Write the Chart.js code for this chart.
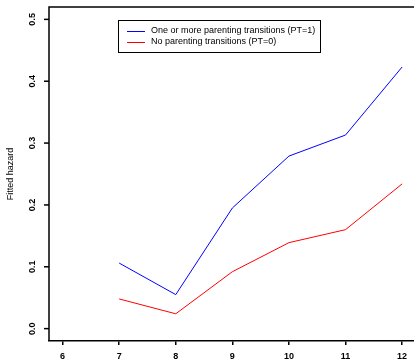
<!DOCTYPE html>
<html>
<head>
<meta charset="utf-8">
<script src="https://cdn.jsdelivr.net/npm/chart.js@4/dist/chart.umd.min.js"></script>
<style>
  html, body { margin: 0; padding: 0; background: #fff; overflow: hidden; }
  #wrap { width: 414px; height: 361px; }
</style>
</head>
<body>
<div id="wrap"><canvas id="chart" width="414" height="361"></canvas></div>
<script>
// chart values
const ages = [7, 8, 9, 10, 11, 12];
const hazardPT1 = [0.106, 0.055, 0.195, 0.279, 0.313, 0.423];
const hazardPT0 = [0.048, 0.024, 0.092, 0.139, 0.160, 0.234];
const xTicks = [6, 7, 8, 9, 10, 11, 12];
const yTicks = [0.0, 0.1, 0.2, 0.3, 0.4, 0.5];
const yTickLabels = ['0.0', '0.1', '0.2', '0.3', '0.4', '0.5'];
const seriesLabels = ['One or more parenting transitions (PT=1)', 'No parenting transitions (PT=0)'];
const yTitle = 'Fitted hazard';

const toPoints = (xs, ys) => xs.map((x, i) => ({ x: x, y: ys[i] }));

// R-style frame, rotated y labels and boxed legend
const rStyle = {
    id: 'rStyle',
    afterDraw(chart) {
        const ctx = chart.ctx;
        const area = chart.chartArea;
        const yScale = chart.scales.y;

        ctx.save();
        // box (left, top; bottom is drawn by the x border)
        ctx.strokeStyle = '#000';
        ctx.lineWidth = 1.5;
        ctx.beginPath();
        ctx.moveTo(area.right + 2, area.top);
        ctx.lineTo(area.left, area.top);
        ctx.lineTo(area.left, area.bottom);
        ctx.stroke();

        // y tick marks and rotated labels
        ctx.fillStyle = '#000';
        ctx.font = 'bold 9px "Liberation Sans", Arial, sans-serif';
        ctx.textAlign = 'center';
        ctx.textBaseline = 'middle';
        yTicks.forEach((v, i) => {
            const py = yScale.getPixelForValue(v);
            ctx.beginPath();
            ctx.moveTo(area.left, py);
            ctx.lineTo(area.left - 5, py);
            ctx.stroke();
            ctx.save();
            ctx.translate(33, py);
            ctx.rotate(-Math.PI / 2);
            ctx.fillText(yTickLabels[i], 0, 0);
            ctx.restore();
        });

        // y axis title
        ctx.font = '9px "Liberation Sans", Arial, sans-serif';
        ctx.save();
        ctx.translate(11, 174);
        ctx.rotate(-Math.PI / 2);
        ctx.fillText(yTitle, 0, 0);
        ctx.restore();

        // legend box
        const lx = 118, ly = 20, lw = 202, lh = 32;
        ctx.lineWidth = 1;
        ctx.strokeStyle = '#000';
        ctx.strokeRect(lx + 0.5, ly + 0.5, lw, lh);
        ctx.font = '9px "Liberation Sans", Arial, sans-serif';
        ctx.textAlign = 'left';
        chart.data.datasets.forEach((ds, i) => {
            const ry = ly + 11 + i * 11;
            ctx.strokeStyle = ds.borderColor;
            ctx.beginPath();
            ctx.moveTo(127, ry + 0.5);
            ctx.lineTo(145, ry + 0.5);
            ctx.stroke();
            ctx.fillStyle = '#000';
            ctx.fillText(ds.label, 151, ry);
        });
        ctx.restore();
    }
};

new Chart(document.getElementById('chart'), {
    type: 'line',
    data: {
        datasets: [
            {
                label: seriesLabels[0],
                data: toPoints(ages, hazardPT1),
                borderColor: '#0000ff',
                borderWidth: 1,
                pointRadius: 0,
                tension: 0,
                fill: false
            },
            {
                label: seriesLabels[1],
                data: toPoints(ages, hazardPT0),
                borderColor: '#ff0000',
                borderWidth: 1,
                pointRadius: 0,
                tension: 0,
                fill: false
            }
        ]
    },
    options: {
        responsive: false,
        animation: false,
        layout: { padding: { top: 7, right: 0, left: 0, bottom: 0 } },
        plugins: {
            legend: { display: false },
            tooltip: { enabled: false }
        },
        scales: {
            x: {
                type: 'linear',
                min: 5.76,
                max: 12.21,
                afterBuildTicks: scale => { scale.ticks = xTicks.map(v => ({ value: v })); },
                afterFit: scale => { scale.height = 20; },
                grid: { drawOnChartArea: false, drawTicks: true, tickLength: 4, color: '#000', lineWidth: 1.5 },
                border: { color: '#000', width: 1.5 },
                ticks: {
                    color: '#000',
                    padding: 6,
                    maxRotation: 0,
                    autoSkip: false,
                    font: { family: '"Liberation Sans", Arial, sans-serif', size: 9, weight: 'bold' }
                }
            },
            y: {
                type: 'linear',
                min: -0.02,
                max: 0.52,
                afterBuildTicks: scale => { scale.ticks = yTicks.map(v => ({ value: v })); },
                afterFit: scale => { scale.width = 49; },
                grid: { display: false },
                border: { display: false },
                ticks: { display: false }
            }
        }
    },
    plugins: [rStyle]
});
</script>
</body>
</html>
